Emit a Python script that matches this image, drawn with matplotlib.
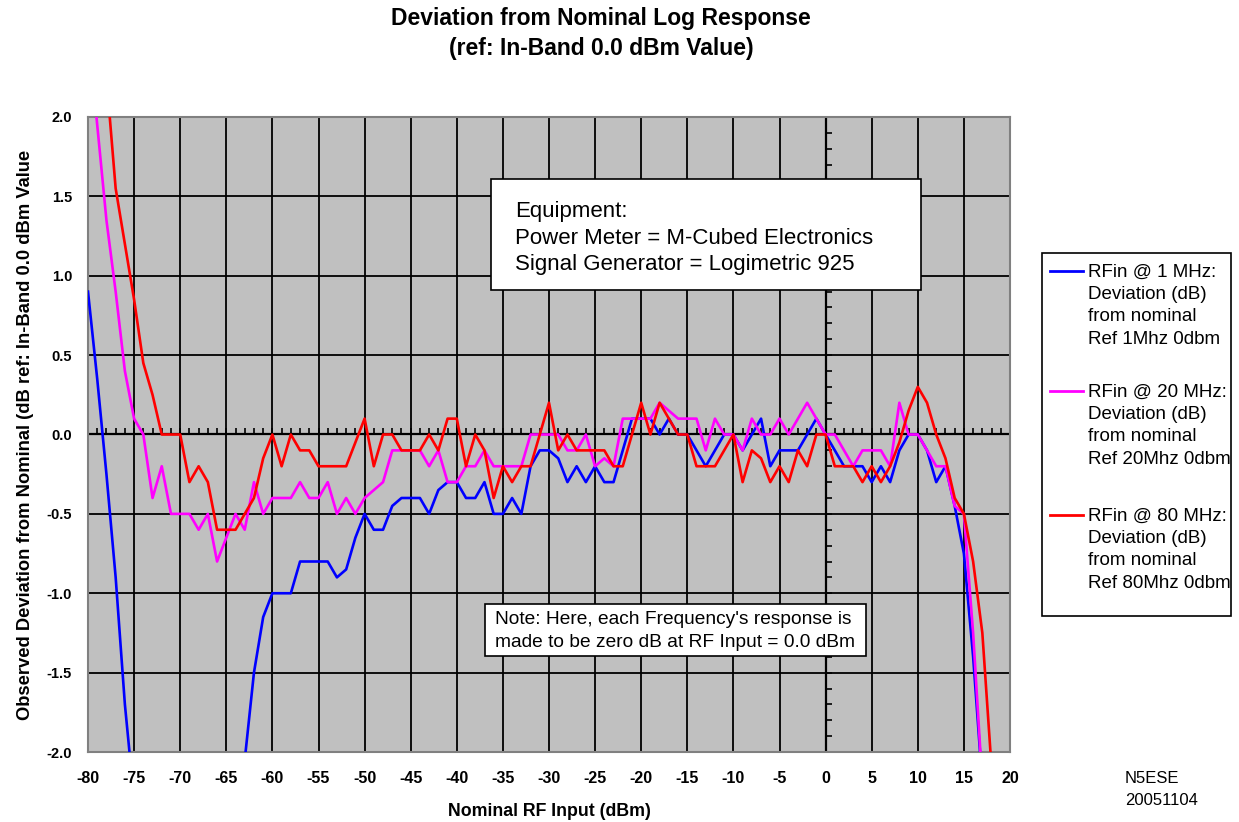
import numpy as np
import matplotlib
matplotlib.use('Agg')
import matplotlib.pyplot as plt
from matplotlib.patches import Rectangle
from matplotlib.lines import Line2D

plt.rcParams['font.family'] = ['Liberation Sans', 'DejaVu Sans']
plt.rcParams['axes.unicode_minus'] = False

# Nominal RF input (dBm), 1 dB steps
rf_input = np.arange(-80, 19)

# Deviation (dB); nan = off scale / no point
dev_1mhz = [
    0.9, 0.35, -0.25, -0.9, -1.7, -2.3,                      # -80..-75
    np.nan, np.nan, np.nan, np.nan, np.nan, np.nan,          # -74..-69
    np.nan, np.nan, np.nan, np.nan, np.nan,                  # -68..-64
    -2.05, -1.5, -1.15, -1.0, -1.0, -1.0, -0.8, -0.8,        # -63..-56
    -0.8, -0.8, -0.9, -0.85, -0.65, -0.5, -0.6, -0.6,        # -55..-48
    -0.45, -0.4, -0.4, -0.4, -0.5, -0.35, -0.3, -0.3,        # -47..-40
    -0.4, -0.4, -0.3, -0.5, -0.5, -0.4, -0.5, -0.2,          # -39..-32
    -0.1, -0.1, -0.15, -0.3, -0.2, -0.3, -0.2, -0.3,         # -31..-24
    -0.3, -0.1, 0.1, 0.1, 0.1, 0.0, 0.1, 0.0,                # -23..-16
    0.0, -0.1, -0.2, -0.1, 0.0, 0.0, -0.1, 0.0,              # -15..-8
    0.1, -0.2, -0.1, -0.1, -0.1, 0.0, 0.1, 0.0,              # -7..0
    -0.1, -0.2, -0.2, -0.2, -0.3, -0.2, -0.3, -0.1,          # 1..8
    0.0, 0.0, -0.1, -0.3, -0.2, -0.45, -0.75, -1.4,          # 9..16
    -2.2, np.nan,                                            # 17..18
]

dev_20mhz = [
    2.55, 1.95, 1.35, 0.9, 0.4, 0.1, 0.0, -0.4,              # -80..-73
    -0.2, -0.5, -0.5, -0.5, -0.6, -0.5, -0.8, -0.65,         # -72..-65
    -0.5, -0.6, -0.3, -0.5, -0.4, -0.4, -0.4, -0.3,          # -64..-57
    -0.4, -0.4, -0.3, -0.5, -0.4, -0.5, -0.4, -0.35,         # -56..-49
    -0.3, -0.1, -0.1, -0.1, -0.1, -0.2, -0.1, -0.3,          # -48..-41
    -0.3, -0.2, -0.2, -0.1, -0.2, -0.2, -0.2, -0.2,          # -40..-33
    0.0, 0.0, 0.0, 0.0, -0.1, -0.1, 0.0, -0.2,               # -32..-25
    -0.15, -0.2, 0.1, 0.1, 0.1, 0.1, 0.2, 0.15,              # -24..-17
    0.1, 0.1, 0.1, -0.1, 0.1, 0.0, 0.0, -0.1,                # -16..-9
    0.1, 0.0, 0.0, 0.1, 0.0, 0.1, 0.2, 0.1,                  # -8..-1
    0.0, 0.0, -0.1, -0.2, -0.1, -0.1, -0.1, -0.2,            # 0..7
    0.2, 0.0, 0.0, -0.1, -0.2, -0.2, -0.45, -0.5,            # 8..15
    -1.25, -2.2, np.nan,                                     # 16..18
]

dev_80mhz = [
    np.nan, np.nan, 2.25, 1.55, 1.2, 0.85, 0.45, 0.25,       # -80..-73
    0.0, 0.0, 0.0, -0.3, -0.2, -0.3, -0.6, -0.6,             # -72..-65
    -0.6, -0.5, -0.4, -0.15, 0.0, -0.2, 0.0, -0.1,           # -64..-57
    -0.1, -0.2, -0.2, -0.2, -0.2, -0.05, 0.1, -0.2,          # -56..-49
    0.0, 0.0, -0.1, -0.1, -0.1, 0.0, -0.1, 0.1,              # -48..-41
    0.1, -0.2, 0.0, -0.1, -0.4, -0.2, -0.3, -0.2,            # -40..-33
    -0.2, 0.0, 0.2, -0.1, 0.0, -0.1, -0.1, -0.1,             # -32..-25
    -0.1, -0.2, -0.2, 0.0, 0.2, 0.0, 0.2, 0.1,               # -24..-17
    0.0, 0.0, -0.2, -0.2, -0.2, -0.1, 0.0, -0.3,             # -16..-9
    -0.1, -0.15, -0.3, -0.2, -0.3, -0.1, -0.2, 0.0,          # -8..-1
    0.0, -0.2, -0.2, -0.2, -0.3, -0.2, -0.3, -0.2,           # 0..7
    -0.05, 0.15, 0.3, 0.2, 0.0, -0.15, -0.4, -0.5,           # 8..15
    -0.8, -1.25, -2.1,                                       # 16..18
]

series = [
    (dev_1mhz, '#0000ff',
     'RFin @ 1 MHz:\nDeviation (dB)\nfrom nominal\nRef 1Mhz 0dbm'),
    (dev_20mhz, '#ff00ff',
     'RFin @ 20 MHz:\nDeviation (dB)\nfrom nominal\nRef 20Mhz 0dbm'),
    (dev_80mhz, '#ff0000',
     'RFin @ 80 MHz:\nDeviation (dB)\nfrom nominal\nRef 80Mhz 0dbm'),
]

W, H = 1239, 822
fig = plt.figure(figsize=(W / 100, H / 100), dpi=100)


def fx(px):
    return px / W


def fy(py):
    return 1 - py / H


ax = fig.add_axes([fx(88), fy(752), fx(1010) - fx(88), fy(117) - fy(752)])
ax.set_facecolor('#c0c0c0')
ax.set_xlim(-80, 20)
ax.set_ylim(-2, 2)
ax.set_xticks(np.arange(-80, 21, 5))
yt = np.arange(-2.0, 2.01, 0.5)
ax.set_yticks(yt)
ax.set_yticklabels(['%.1f' % v for v in yt])
ax.grid(True, color='black', lw=1.3)
ax.set_axisbelow(True)
ax.tick_params(length=0)
ax.tick_params(axis='x', pad=14, labelsize=11.5)
ax.tick_params(axis='y', pad=11.5, labelsize=10.5)
for lab in ax.get_xticklabels() + ax.get_yticklabels():
    lab.set_fontweight('bold')
for sp in ax.spines.values():
    sp.set_color('#808080')
    sp.set_linewidth(1.5)

# axes crossing at zero, with small tick marks
ax.axhline(0, color='black', lw=1.6, zorder=1.5)
ax.axvline(0, color='black', lw=1.6, zorder=1.5)
ax.plot(np.arange(-80, 21), np.zeros(101), ls='none', marker=2, ms=4,
        mew=1.2, color='black', zorder=1.6)
ax.plot(np.zeros(41), np.linspace(-2, 2, 41), ls='none', marker=1, ms=4,
        mew=1.2, color='black', zorder=1.6)

for vals, col, lab in series:
    ax.plot(rf_input, vals, color=col, lw=1.9, solid_joinstyle='round',
            zorder=3)

ax.set_xlabel('Nominal RF Input (dBm)', fontsize=12.8, fontweight='bold',
              labelpad=12)
ax.set_ylabel('Observed Deviation from Nominal (dB ref: In-Band 0.0 dBm Value',
              fontsize=13.2, fontweight='bold', labelpad=9)

fig.text(fx(601), fy(19), 'Deviation from Nominal Log Response',
         ha='center', va='center', fontsize=16.5, fontweight='bold')
fig.text(fx(601), fy(48), '(ref: In-Band 0.0 dBm Value)',
         ha='center', va='center', fontsize=16.5, fontweight='bold')

# equipment note
fig.add_artist(Rectangle((fx(491), fy(290)), fx(921) - fx(491),
                         fy(179) - fy(290), transform=fig.transFigure,
                         fc='white', ec='black', lw=1.2))
fig.text(fx(515), fy(238), 'Equipment:\nPower Meter = M-Cubed Electronics\n'
         'Signal Generator = Logimetric 925', ha='left', va='center',
         fontsize=16, linespacing=1.32)

# frequency note
fig.add_artist(Rectangle((fx(485), fy(656)), fx(866) - fx(485),
                         fy(604) - fy(656), transform=fig.transFigure,
                         fc='white', ec='black', lw=1.2))
fig.text(fx(495), fy(631), "Note: Here, each Frequency's response is\n"
         'made to be zero dB at RF Input = 0.0 dBm', ha='left', va='center',
         fontsize=13.8, linespacing=1.45)

# legend box
fig.add_artist(Rectangle((fx(1042), fy(616)), fx(1231) - fx(1042),
                         fy(253) - fy(616), transform=fig.transFigure,
                         fc='white', ec='black', lw=1.2))
first_rows = [271, 391, 515]
for (vals, col, lab), row in zip(series, first_rows):
    fig.add_artist(Line2D([fx(1050), fx(1083)], [fy(row), fy(row)],
                          transform=fig.transFigure, color=col, lw=2))
    fig.text(fx(1088), fy(row - 7), lab, ha='left', va='top',
             fontsize=13.5, linespacing=1.4)

fig.text(fx(1125), fy(778), 'N5ESE', ha='left', va='center', fontsize=12)
fig.text(fx(1125), fy(800), '20051104', ha='left', va='center', fontsize=12)

fig.savefig('out.png', dpi=100)
